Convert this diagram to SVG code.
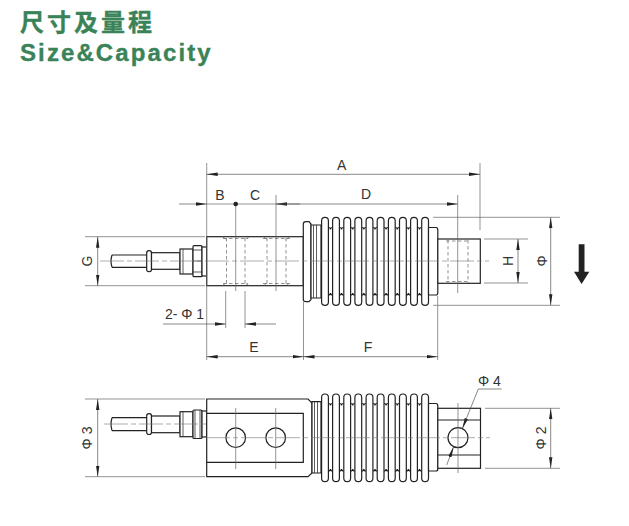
<svg xmlns="http://www.w3.org/2000/svg" xmlns:xlink="http://www.w3.org/1999/xlink" width="629" height="526" viewBox="0 0 629 526">
<style>
.o{fill:#fff;stroke:#222;stroke-width:1.2}
.n{fill:none;stroke:#222;stroke-width:1.2}
.t{fill:none;stroke:#333;stroke-width:.8}
.d{fill:none;stroke:#666;stroke-width:.7;stroke-dasharray:3.500 2.500}
.c{fill:none;stroke:#777;stroke-width:.6;stroke-dasharray:24 3 5 3}
.x{fill:none;stroke:#666;stroke-width:.7}
.a{fill:none;stroke:#555;stroke-width:.7;marker-end:url(#h)}
.l{font-family:"Liberation Sans",Arial,sans-serif;font-size:14px;fill:#333;text-anchor:middle}
.g{font-weight:bold;fill:#3a8358;stroke:#3a8358;stroke-width:.35}
</style>
<defs>
<marker id="h" markerUnits="userSpaceOnUse" markerWidth="12" markerHeight="6" refX="11" refY="3" orient="auto"><path d="M0 1.300L11 3L0 4.700Z" fill="#222"/></marker>
<g id="r1"><rect class="o" x="-3.400" y="217.400" width="6.800" height="88" rx="3.400"/><path class="n" d="M3.400 227.500Q5.500 227.500 5.500 229.500Q5.500 227.500 7.700 227.500M3.400 295Q5.500 295 5.500 293Q5.500 295 7.700 295"/></g>
<g id="r2"><rect class="o" x="-3.400" y="394" width="6.800" height="87.600" rx="3.400"/><path class="n" d="M3.400 403.500Q5.500 403.500 5.500 405.500Q5.500 403.500 7.700 403.500M3.400 471Q5.500 471 5.500 469Q5.500 471 7.700 471"/></g>
</defs>
<rect width="629" height="526" fill="#fff"/>
<g id="title">
<text class="g" x="20" y="31" font-size="24" letter-spacing="3" font-family="'Noto Sans CJK SC',sans-serif">尺寸及量程</text>
<text class="g" x="20" y="61" font-size="24" letter-spacing="2.100" font-family="'Liberation Sans',Arial,sans-serif">Size&amp;Capacity</text>
</g>
<g id="side-view">
<path class="n" d="M112 255H147M112 267.300H147M112 255Q110 261 112 267.300"/>
<rect class="o" x="146.700" y="250.700" width="4.800" height="21" rx="2.200"/>
<rect class="o" x="151.500" y="252.700" width="28.500" height="16.600"/>
<rect class="o" x="180" y="249" width="13" height="25"/>
<path class="t" d="M183 249V274"/>
<rect class="o" x="193" y="245.700" width="9" height="31" rx="1"/>
<path class="t" d="M193 250H202M193 261H202M193 272H202"/>
<rect class="o" x="202" y="247" width="4.700" height="29"/>
<rect class="o" x="206.700" y="236.700" width="96.600" height="49"/>
<path class="d" d="M226.500 238V285M245 238V285M223 238.500H248M223 283.500H248M267 238V285M286 238V285M263 238.500H290M263 283.500H290M222.500 237L226 239.500M249 237L245 239.500M222.500 285.500L226 283M249 285.500L245 283M264 237L267 239.500M289 237L286 239.500M264 285.500L267 283M289 285.500L286 283"/>
<path class="o" d="M303.300 224Q303.300 221.700 306 221.700H309L311 224V299.500L309 301.700H306Q303.300 301.700 303.300 299.500Z"/>
<path class="o" d="M311 225H321V298H311Z"/>
<path class="t" d="M313.500 225V298M316.500 225V298"/>
<use xlink:href="#r1" x="325"/><use xlink:href="#r1" x="336"/><use xlink:href="#r1" x="347.200"/><use xlink:href="#r1" x="358.300"/><use xlink:href="#r1" x="369.500"/><use xlink:href="#r1" x="380.600"/><use xlink:href="#r1" x="391.800"/><use xlink:href="#r1" x="402.900"/><use xlink:href="#r1" x="414"/>
<rect class="o" x="421.700" y="217.400" width="6.800" height="88" rx="3.400"/>
<path class="o" d="M428.500 227.500H436Q437.800 227.500 437.800 230V292.500Q437.800 295 436 295H428.500Z"/>
<rect class="o" x="437.800" y="239" width="42.500" height="44.300"/>
<path class="d" d="M448 240V283M468 240V283M446 241H470M446 281.500H470"/>
</g>
<g id="top-view">
<path class="n" d="M112 417.700H147M112 430.700H147M112 417.700Q110 424 112 430.700"/>
<rect class="o" x="146.700" y="413.700" width="4.800" height="20.800" rx="2.200"/>
<rect class="o" x="151.500" y="416" width="28.500" height="16.700"/>
<rect class="o" x="180" y="411.700" width="13" height="25"/>
<path class="t" d="M183 411.700V436.700"/>
<rect class="o" x="193" y="410" width="9" height="28.500" rx="1"/>
<path class="t" d="M195 410V438.500M200 410V438.500"/>
<rect class="o" x="202" y="411" width="4.700" height="26"/>
<path class="o" d="M206.700 399H308L312 403V473L308 476.700H206.700Z"/>
<path class="n" d="M206.700 413.300H303.300V462.300H206.700"/>
<circle class="o" cx="235.700" cy="437.700" r="9.800"/>
<circle class="o" cx="275.700" cy="437.700" r="9.800"/>
<path class="o" d="M312 401.700H321V473H312Z"/>
<path class="t" d="M314.500 401.700V473M317.500 401.700V473"/>
<use xlink:href="#r2" x="325"/><use xlink:href="#r2" x="336"/><use xlink:href="#r2" x="347.200"/><use xlink:href="#r2" x="358.300"/><use xlink:href="#r2" x="369.500"/><use xlink:href="#r2" x="380.600"/><use xlink:href="#r2" x="391.800"/><use xlink:href="#r2" x="402.900"/><use xlink:href="#r2" x="414"/>
<rect class="o" x="421.700" y="394" width="6.800" height="87.600" rx="3.400"/>
<path class="o" d="M428.500 403.500H436Q437.800 403.500 437.800 406V469Q437.800 471 436 471H428.500Z"/>
<rect class="o" x="437.800" y="408.300" width="42.700" height="60"/>
<path class="n" d="M437.800 420H480.500M437.800 455H480.500"/>
<circle class="o" cx="458" cy="437.700" r="10"/>
</g>
<g id="connectors">
<path class="c" d="M100 261H489M206 437.700H490M104 424H207"/>
<path class="x" d="M206.700 163V360M480 163V230M276 195V291M235.700 204V291M457.700 195V293M225.700 291V328M245 291V328M303.500 302V360M437.700 296V360M85 236.700H205M85 285.700H205M433 217.300H560M433 305.300H560M484 239H528M484 283H528M85 399H205M85 476.700H205M485 408.300H560M485 468.300H560M235.700 408V469M275.700 408V469M458 403V473"/>
<path class="a" d="M343 174.300H206.700"/><path class="a" d="M343 174.300H480"/>
<path class="a" d="M179 204H206.700"/><path class="a" d="M300 204H276"/>
<path class="a" d="M276 204H457.700"/><path class="x" d="M206.700 204H276"/>
<circle cx="235.700" cy="204" r="2.300" fill="#222"/>
<path class="a" d="M97.700 261V236.700"/><path class="a" d="M97.700 261V285.700"/>
<path class="a" d="M163 324H225.700"/><path class="a" d="M276 324H245"/>
<path class="a" d="M255 356.700H206.700"/><path class="a" d="M255 356.700H303.500"/>
<path class="a" d="M370 356.700H303.500"/><path class="a" d="M370 356.700H437.700"/>
<path class="a" d="M518 261V239"/><path class="a" d="M518 261V283"/>
<path class="a" d="M550.700 261V217.300"/><path class="a" d="M550.700 261V305.300"/>
<path class="a" d="M97.700 438V399"/><path class="a" d="M97.700 438V476.700"/>
<path class="a" d="M550.700 438V408.300"/><path class="a" d="M550.700 438V468.300"/>
<path class="a" d="M501.700 389H478.300L462.300 428.700"/><path class="a" d="M446.700 465L453.700 446.500"/>
</g>
<g id="load-arrow"><path d="M578.700 244.300H584.500V271.700H589.300L581.600 284L574 271.700H578.700Z" fill="#222"/></g>
<g id="labels">
<text class="l" x="341.700" y="170">A</text>
<text class="l" x="220" y="200">B</text>
<text class="l" x="255" y="200">C</text>
<text class="l" x="366" y="199">D</text>
<text class="l" x="254" y="352">E</text>
<text class="l" x="368" y="352">F</text>
<text class="l" x="184.500" y="319">2- Φ 1</text>
<text class="l" transform="translate(92 261) rotate(-90)">G</text>
<text class="l" transform="translate(513 261) rotate(-90)">H</text>
<text class="l" transform="translate(546.500 261) rotate(-90)">Φ</text>
<text class="l" transform="translate(92 438) rotate(-90)">Φ 3</text>
<text class="l" transform="translate(546 438) rotate(-90)">Φ 2</text>
<text class="l" x="489.500" y="386">Φ 4</text>
</g>
</svg>
